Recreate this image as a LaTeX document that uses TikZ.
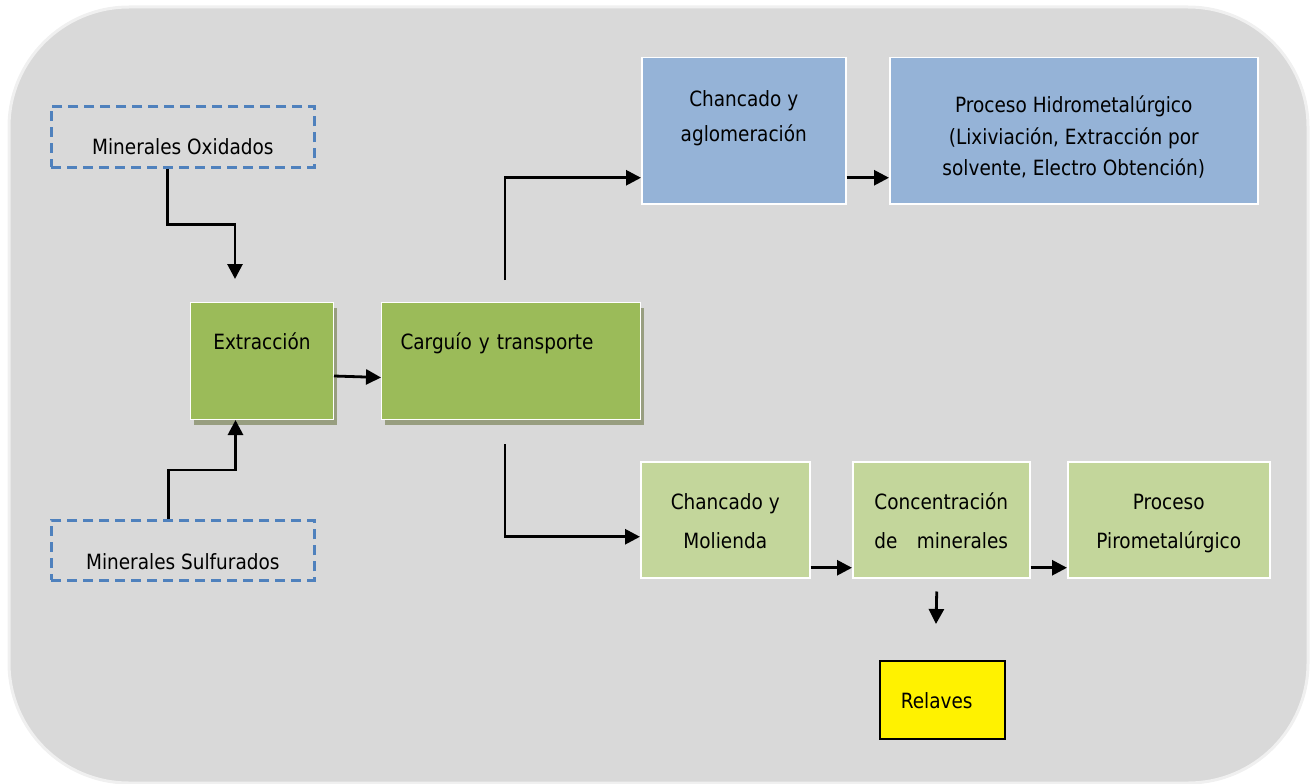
\documentclass[tikz,border=0pt]{standalone}
\usepackage{fontspec}
\setmainfont{DejaVu Sans}[FakeStretch=0.88]
\usepackage{calc}
\usetikzlibrary{arrows.meta,shadows}
\definecolor{panelgrey}{HTML}{D9D9D9}
\definecolor{paneledge}{HTML}{F0F0F0}
\definecolor{dashblue}{HTML}{4F81BD}
\definecolor{darkolive}{HTML}{9BBB59}
\definecolor{lightolive}{HTML}{C3D69B}
\definecolor{steelblue}{HTML}{95B3D7}
\definecolor{shadowolive}{HTML}{989E80}
\begin{document}
\begin{tikzpicture}[x=1pt,y=-1pt,
        font=\fontsize{21}{35}\selectfont,
        box/.style={anchor=north west,align=center,draw=white,line width=1pt,
            inner sep=3pt,text height=0pt,text depth=0pt},
        dashbox/.style={box,draw=dashblue,line width=2.6pt,dash pattern=on 10pt off 6pt},
        mainbox/.style={box,fill=darkolive,
            drop shadow={shadow xshift=3pt,shadow yshift=-5pt,fill=shadowolive,opacity=1}},
        hidrobox/.style={box,fill=steelblue,line width=1.5pt},
        pirobox/.style={box,fill=lightolive,line width=1.5pt,
            font=\fontsize{21}{39}\selectfont},
        arr/.style={-{Triangle[length=15pt,width=15pt]},line width=2.8pt}]
\useasboundingbox (0,0) rectangle (1310,784);
\draw[fill=panelgrey,draw=paneledge,line width=3pt,rounded corners=120pt]
    (9,7) rectangle (1308,783);

% ore types
\node[dashbox,minimum width=263pt,minimum height=61pt,text height=35pt] (oxid) at (50,105) {Minerales Oxidados};
\node[dashbox,minimum width=263pt,minimum height=60pt,text height=38pt] (sulf) at (50,519) {Minerales Sulfurados};

% mine
\node[mainbox,minimum width=143pt,minimum height=117pt,text depth=23pt] (extr) at (190,302) {Extracción};
\node[mainbox,minimum width=259pt,minimum height=117pt,text depth=23pt,
    align=left,text width=221pt,inner xsep=19pt] (carg) at (381,302) {Carguío y transporte};

% oxide line
\node[hidrobox,minimum width=204pt,minimum height=146pt,text height=22pt] (aglo) at (641,57) {Chancado y\\aglomeración};
\node[hidrobox,minimum width=368pt,minimum height=146pt,text height=90pt,
    font=\fontsize{21}{31.5}\selectfont] (hidro) at (889,57)
    {Proceso Hidrometalúrgico\\(Lixiviación, Extracción por\\solvente, Electro Obtención)};

% sulfide line
\node[pirobox,minimum width=169pt,minimum height=116pt,text height=58pt] (moli) at (640,461) {Chancado y\\Molienda};
\node[pirobox,minimum width=177pt,minimum height=116pt,text height=58pt] (conc) at (852,461)
    {Concentración\\\makebox[\widthof{Concentración}][s]{de minerales}};
\node[pirobox,minimum width=202pt,minimum height=116pt,text height=58pt] (piro) at (1067,461) {Proceso\\Pirometalúrgico};
\node[box,fill=yellow,draw=black,line width=1.5pt,minimum width=125pt,minimum height=78pt,
    text height=18pt,align=left,text width=83pt,inner xsep=21pt] (relv) at (879,660) {Relaves};

\coordinate (extrin) at (235,279);
\coordinate (cargup) at (505,280);
\coordinate (cargdn) at (505,444);
\coordinate (relvin) at (936,624);

\draw[arr] ([xshift=-15pt]oxid.south) -- ++(0,56) -| (extrin);
\draw[arr] ([xshift=-14.5pt]sulf.north) -- ++(0,-49) -| ([xshift=-26.5pt]extr.south);
\draw[arr] ([yshift=-15pt]extr.east) -- ([yshift=-16.5pt]carg.west);
\draw[arr] (cargup) |- ([yshift=-47pt]aglo.west);
\draw[arr] ([yshift=-47pt]aglo.east) -- ([yshift=-47pt]hidro.west);
\draw[arr] (cargdn) |- ([yshift=-17pt]moli.west);
\draw[arr] ([yshift=-48pt]moli.east) -- ([yshift=-48pt]conc.west);
\draw[arr] ([yshift=-48pt]conc.east) -- ([yshift=-48pt]piro.west);
\draw[arr] ([xshift=-4.5pt,yshift=-13pt]conc.south) -- (relvin);
\end{tikzpicture}
\end{document}
